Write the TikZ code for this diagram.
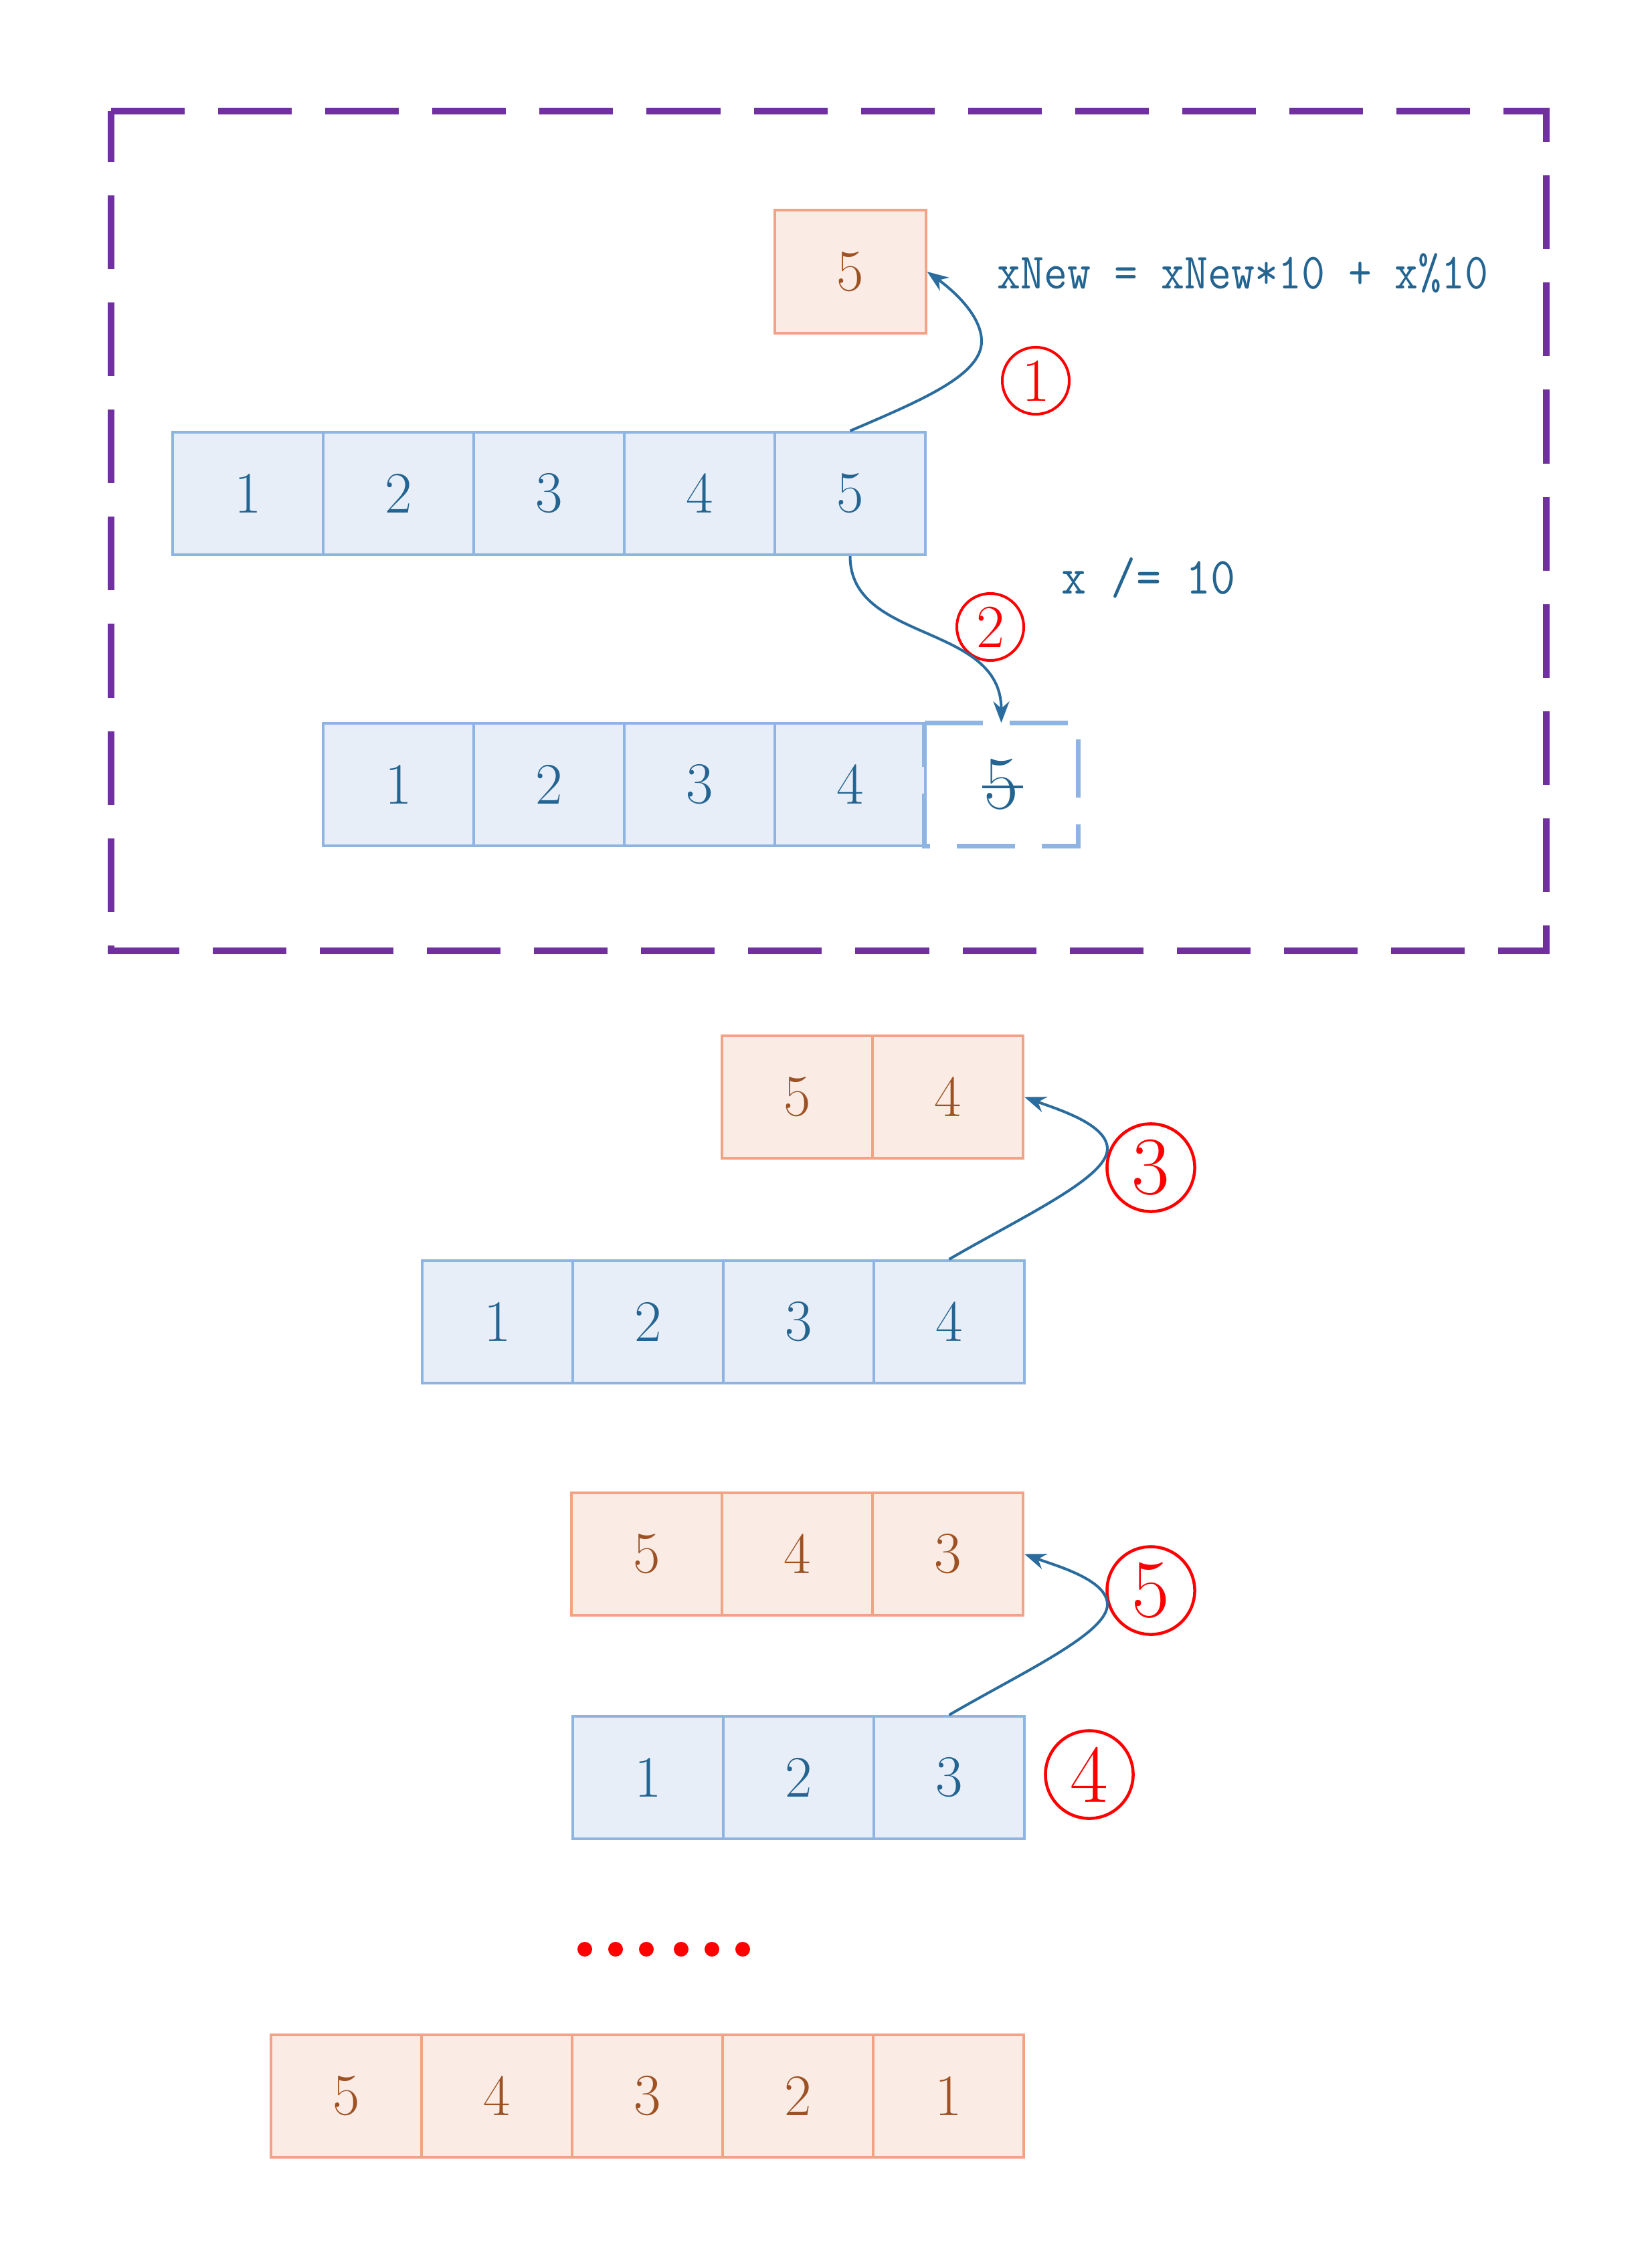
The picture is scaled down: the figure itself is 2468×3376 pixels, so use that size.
\documentclass[tikz,border=0pt]{standalone}
\usepackage{fontspec}
\usepackage{graphicx}
\usetikzlibrary{arrows.meta}
\definecolor{bfill}{HTML}{E8EEF8}
\definecolor{bline}{HTML}{8DB4E2}
\definecolor{btext}{HTML}{236491}
\definecolor{ofill}{HTML}{FBEBE5}
\definecolor{oline}{HTML}{F2A386}
\definecolor{otext}{HTML}{9E5224}
\definecolor{arrc}{HTML}{2A6C9E}
\definecolor{purp}{HTML}{7030A0}
\definecolor{redc}{HTML}{FF0000}
\begin{document}
\begin{tikzpicture}[x=0.01cm,y=-0.01cm,
  cellbase/.style={minimum width=2.25cm,minimum height=1.83cm,inner sep=0pt,line width=0.04cm,font=\fontsize{25}{30}\selectfont},
  bcell/.style={cellbase,draw=bline,fill=bfill,text=btext},
  ocell/.style={cellbase,draw=oline,fill=ofill,text=otext},
  dcell/.style={minimum width=2.28cm,minimum height=1.83cm,inner sep=0pt,text=btext,font=\fontsize{32}{36}\selectfont},
  dline/.style={draw=bline,line width=0.07cm,dash pattern=on 0.87cm off 0.4cm},
  purpframe/.style={draw=purp,line width=0.1cm,dash pattern=on 1.1cm off 0.5cm},
  smallc/.style={circle,draw=redc,line width=0.04cm,text=redc,minimum size=1.0cm,inner sep=0pt,font=\fontsize{26}{30}\selectfont},
  bigc/.style={circle,draw=redc,line width=0.045cm,text=redc,minimum size=1.31cm,inner sep=0pt,font=\fontsize{35}{40}\selectfont},
  codetext/.style={text=btext,inner sep=0pt,font=\ttfamily\fontsize{19.3}{23}\selectfont},
  codetextb/.style={text=btext,inner sep=0pt,font=\ttfamily\fontsize{20.5}{24}\selectfont},
  arr/.style={draw=arrc,line width=0.04cm,-{Stealth[length=0.32cm,width=0.24cm]}}
]
\fill[white] (0,0) rectangle (2468,3376);
\useasboundingbox (0,0) rectangle (2468,3376);

% dashed frame
\coordinate (ftl) at (166,166);
\coordinate (fbr) at (2311,1421);
\draw[purpframe] (ftl) -- (ftl -| fbr) -- (fbr) -- (fbr -| ftl) -- cycle;

% top section
\node[ocell] (o0) at (1271,406) {5};
\foreach \v [count=\i] in {1,...,5}
  \node[bcell] (a\i) at ({145.5+225*\i},737.5) {\v};
\foreach \v [count=\i] in {1,...,4}
  \node[bcell] (b\i) at ({370.5+225*\i},1172.5) {\v};
\node[dcell] (d) at (1496.5,1172.5) {\makebox[0pt][l]{\hspace{-0.02em}\rule[0.27em]{0.54em}{0.04em}}5};
\draw[dline] (d.north west) -- (d.north east) -- (d.south east) -- (d.south west) -- cycle;

\node[codetext,anchor=base west] (t1) at (1490,432) {\scalebox{1}[1.12]{xNew = xNew*10 + x\%10}};
\node[codetextb,anchor=base west] (t2) at (1586,887) {\scalebox{1}[1.08]{x /= 10}};

\node[smallc] (n1) at (1548,569) {1};
\node[smallc] (n2) at (1480,937) {2};

\coordinate (k1) at (1467,510);
\draw[arr] (a5.north) .. controls +(110,-47) and +(0,50) .. (k1) .. controls +(0,-40) and +(35,25) .. (o0.east);
\draw[arr] (a5.south) .. controls +(0,130) and +(0,-150) .. (d.north);

% middle
\foreach \v [count=\i] in {5,4}
  \node[ocell] (c\i) at ({966.5+225*\i},1639.5) {\v};
\foreach \v [count=\i] in {1,...,4}
  \node[bcell] (e\i) at ({518.5+225*\i},1975.5) {\v};
\node[bigc] (n3) at (1720,1745) {3};
\coordinate (k3) at (1655,1717);
\draw[arr] (e4.north) .. controls +(110,-64) and +(0,43) .. (k3) .. controls +(0,-37) and +(49,18) .. (c2.east);

\foreach \v [count=\i] in {5,4,3}
  \node[ocell] (f\i) at ({741.5+225*\i},2322.5) {\v};
\foreach \v [count=\i] in {1,2,3}
  \node[bcell] (g\i) at ({743.5+225*\i},2656.5) {\v};
\node[bigc] (n5) at (1720,2377) {5};
\node[bigc] (n4) at (1628,2652) {4};
\coordinate (k5) at (1655,2398);
\draw[arr] (g3.north) .. controls +(110,-64) and +(0,43) .. (k5) .. controls +(0,-37) and +(49,18) .. (f3.east);

% dots
\foreach \x in {874,920,966,1018,1064,1110}
  \fill[redc] (\x,2913) circle (0.11cm);

% final row
\foreach \v [count=\i] in {5,4,3,2,1}
  \node[ocell] (h\i) at ({292.5+225*\i},3132.5) {\v};
\end{tikzpicture}
\end{document}
